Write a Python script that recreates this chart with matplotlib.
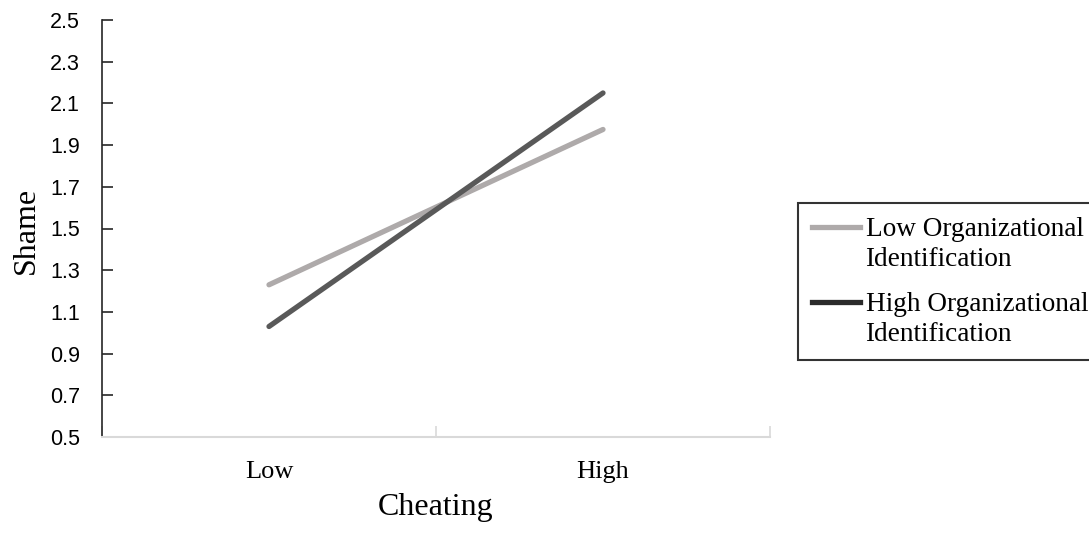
import matplotlib
matplotlib.use("Agg")
import matplotlib.pyplot as plt
from matplotlib.lines import Line2D
from matplotlib.legend_handler import HandlerLine2D

# data
cheating_levels = ["Low", "High"]
low_org_id = [1.23, 1.975]
high_org_id = [1.03, 2.15]
series_names = ["Low Organizational\nIdentification",
                "High Organizational\nIdentification"]
y_ticks = [0.5, 0.7, 0.9, 1.1, 1.3, 1.5, 1.7, 1.9, 2.1, 2.3, 2.5]

light_grey = "#AEAAAA"
dark_grey = "#595959"
legend_dark = "#2B2B2B"
legend_linespacing = 1.28


class TopLineHandler(HandlerLine2D):
    """Put the legend line next to the first row of a two-row label."""

    def create_artists(self, legend, orig_handle, xdescent, ydescent,
                       width, height, fontsize, trans):
        artists = super().create_artists(legend, orig_handle, xdescent,
                                         ydescent, width, height, fontsize,
                                         trans)
        shift = fontsize * 0.5 * legend_linespacing
        for a in artists:
            a.set_ydata([y + shift for y in a.get_ydata()])
        return artists


fig = plt.figure(figsize=(10.89, 5.37), dpi=100)
ax = fig.add_axes([102 / 1089, 100 / 537, 668 / 1089, 417 / 537])

x_pos = [0.5, 1.5]
ax.plot(x_pos, low_org_id, color=light_grey, lw=3.8, solid_capstyle="round")
ax.plot(x_pos, high_org_id, color=dark_grey, lw=3.8, solid_capstyle="round")

ax.set_xlim(0, 2)
ax.set_ylim(0.5, 2.5)
ax.set_yticks(y_ticks)
ax.set_yticklabels([f"{v:.1f}" for v in y_ticks],
                   fontfamily="Liberation Sans", fontsize=15.5)

# category labels sit between the tick marks
ax.set_xticks([0, 1, 2])
ax.set_xticklabels([])
ax.set_xticks(x_pos, minor=True)
ax.set_xticklabels(cheating_levels, minor=True,
                   fontfamily="Liberation Serif", fontsize=19)
ax.tick_params(axis="x", which="minor", length=0, pad=17)
ax.tick_params(axis="x", which="major", direction="in", length=8,
               color="#D9D9D9", width=1.2)
ax.tick_params(axis="y", direction="in", length=8, width=1.2,
               color="#262626", pad=16)

for side in ["top", "right"]:
    ax.spines[side].set_visible(False)
ax.spines["bottom"].set_color("#D9D9D9")
ax.spines["bottom"].set_linewidth(1.5)
ax.spines["left"].set_color("#262626")
ax.spines["left"].set_linewidth(1.2)

ax.set_ylabel("Shame", fontfamily="Liberation Serif", fontsize=23)
ax.yaxis.set_label_coords(-0.092, 0.495)
ax.set_xlabel("Cheating", fontfamily="Liberation Serif", fontsize=23)
ax.xaxis.set_label_coords(0.5, -0.135)

handles = [Line2D([], [], color=light_grey, lw=3.8),
           Line2D([], [], color=legend_dark, lw=3.8)]
leg = fig.legend(handles, series_names, loc="upper left",
                 bbox_to_anchor=(798 / 1089, (537 - 203) / 537),
                 prop={"family": "Liberation Serif", "size": 19.6},
                 frameon=True, fancybox=False, handlelength=1.78,
                 handletextpad=0.2, labelspacing=0.72, borderpad=0.5,
                 borderaxespad=0, handler_map={Line2D: TopLineHandler()})
for t in leg.get_texts():
    t.set_linespacing(legend_linespacing)
leg.get_frame().set_edgecolor("black")
leg.get_frame().set_linewidth(1.5)

fig.savefig("out.png", dpi=100)
